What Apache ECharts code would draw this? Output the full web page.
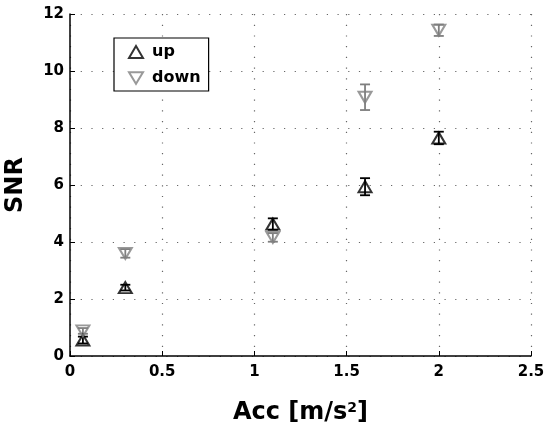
<!DOCTYPE html>
<html>
<head>
<meta charset="utf-8">
<style>
  html, body { margin: 0; padding: 0; background: #fff; }
  #chart { width: 546px; height: 429px; }
</style>
<script src="https://cdn.jsdelivr.net/npm/echarts@6/dist/echarts.min.js"></script>
</head>
<body>
<div id="chart"></div>
<script>
// acceleration levels (m/s^2)
const accUp = [0.07, 0.3, 1.1, 1.6, 2.0]
const snrUp = [0.56, 2.4, 4.63, 5.94, 7.65]
const errUp = [0.12, 0.1, 0.2, 0.3, 0.22]

const accDown = [0.07, 0.3, 1.1, 1.6, 2.0]
const snrDown = [0.88, 3.6, 4.16, 9.08, 11.43]
const errDown = [0.1, 0.15, 0.15, 0.45, 0.2]

const UP_COLOR = '#000000'
const DOWN_COLOR = '#7f7f7f'
const FONT = 'DejaVu Sans, Arial, sans-serif'

const chart = echarts.init(document.getElementById('chart'))

// error bar rows: [x, low, high]
function barRows(xs, ys, es) {
  return xs.map((x, i) => [x, ys[i] - es[i], ys[i] + es[i]])
}

function errorBars(name, rows, color) {
  return {
    name: name,
    type: 'custom',
    data: rows,
    z: 2,
    silent: true,
    renderItem: function (params, api) {
      const lo = api.coord([api.value(0), api.value(1)])
      const hi = api.coord([api.value(0), api.value(2)])
      const cap = 5
      const style = { stroke: color, lineWidth: 1.8 }
      return {
        type: 'group',
        children: [
          { type: 'line', shape: { x1: lo[0], y1: lo[1], x2: hi[0], y2: hi[1] }, style: style },
          { type: 'line', shape: { x1: lo[0] - cap, y1: lo[1], x2: lo[0] + cap, y2: lo[1] }, style: style },
          { type: 'line', shape: { x1: hi[0] - cap, y1: hi[1], x2: hi[0] + cap, y2: hi[1] }, style: style }
        ]
      }
    }
  }
}

const gridDots = { show: true, lineStyle: { color: '#666', width: 1.2, type: [1.2, 9.5] } }

const option = {
  animation: false,
  grid: { left: 70, right: 15, top: 14, bottom: 73, containLabel: false, outerBoundsMode: 'none' },
  legend: {
    orient: 'vertical',
    left: 114,
    top: 38,
    padding: [6, 8, 5, 14],
    itemGap: 10,
    itemWidth: 14,
    itemHeight: 12,
    borderColor: '#000',
    borderWidth: 1.2,
    backgroundColor: '#fff',
    data: [
      { name: 'up', icon: 'triangle' },
      { name: 'down', icon: 'path://M0,0L12,0L6,10Z' }
    ],
    textStyle: { fontFamily: FONT, fontWeight: 'bold', fontSize: 16, color: '#000', padding: [0, 0, 0, 4] }
  },
  xAxis: {
    type: 'value',
    min: 0, max: 2.5, interval: 0.5,
    name: 'Acc [m/s{sup|2}]',
    nameLocation: 'middle',
    nameGap: 45,
    nameTextStyle: {
      fontFamily: FONT, fontWeight: 'bold', fontSize: 24, color: '#000',
      rich: { sup: { fontFamily: FONT, fontWeight: 'bold', fontSize: 14, color: '#000', verticalAlign: 'top', padding: [0, 0, 10, 0] } }
    },
    axisLine: { show: true, onZero: false, lineStyle: { color: '#000', width: 1.5 } },
    axisTick: { show: true, inside: true, length: 5, lineStyle: { color: '#000' } },
    axisLabel: { fontFamily: FONT, fontWeight: 'bold', fontSize: 15, color: '#000', margin: 9 },
    splitLine: gridDots
  },
  yAxis: {
    type: 'value',
    min: 0, max: 12, interval: 2,
    name: 'SNR',
    nameLocation: 'middle',
    nameGap: 42,
    nameRotate: 90,
    nameTextStyle: { fontFamily: FONT, fontWeight: 'bold', fontSize: 24, color: '#000' },
    axisLine: { show: true, onZero: false, lineStyle: { color: '#000', width: 1.5 } },
    axisTick: { show: true, inside: true, length: 5, lineStyle: { color: '#000' } },
    axisLabel: { fontFamily: FONT, fontWeight: 'bold', fontSize: 15, color: '#000', margin: 6 },
    splitLine: gridDots
  },
  series: [
    errorBars('upErr', barRows(accUp, snrUp, errUp), UP_COLOR),
    errorBars('downErr', barRows(accDown, snrDown, errDown), DOWN_COLOR),
    {
      name: 'up',
      type: 'scatter',
      z: 3,
      symbol: 'triangle',
      symbolSize: [13, 11],
      data: accUp.map((x, i) => [x, snrUp[i]]),
      itemStyle: { color: 'rgba(255,255,255,0)', borderColor: UP_COLOR, borderWidth: 2 }
    },
    {
      name: 'down',
      type: 'scatter',
      z: 3,
      symbol: 'triangle',
      symbolRotate: 180,
      symbolSize: [13, 11],
      data: accDown.map((x, i) => [x, snrDown[i]]),
      itemStyle: { color: 'rgba(255,255,255,0)', borderColor: DOWN_COLOR, borderWidth: 2 }
    }
  ]
}

chart.setOption(option)
</script>
</body>
</html>
